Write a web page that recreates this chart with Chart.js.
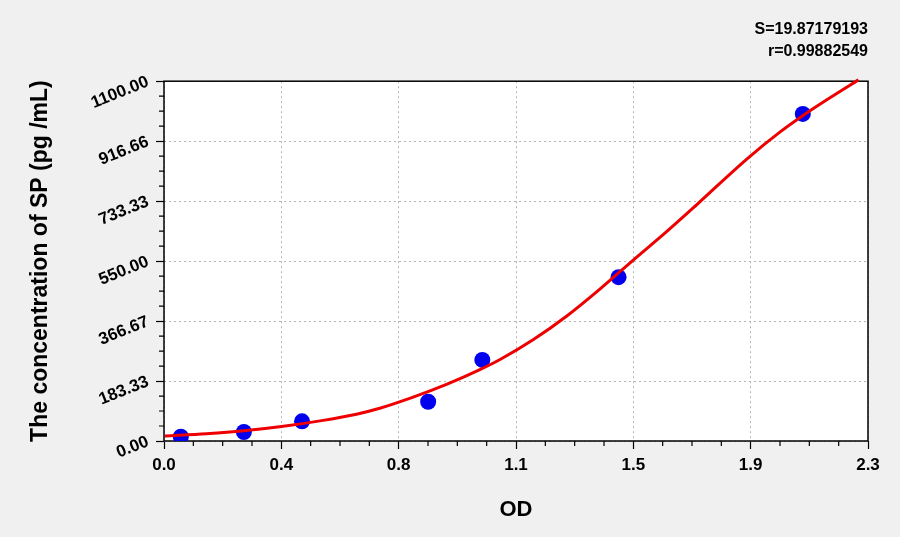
<!DOCTYPE html>
<html>
<head>
<meta charset="utf-8">
<script src="https://cdn.jsdelivr.net/npm/chart.js@4.4.1/dist/chart.umd.min.js"></script>
<style>
  html, body { margin: 0; padding: 0; background: #f0f0f0; }
  #wrap { width: 900px; height: 537px; }
</style>
</head>
<body>
<div id="wrap"><canvas id="chart" width="900" height="537"></canvas></div>
<script>
// Datos
const pointOD = [0.055, 0.261, 0.451, 0.863, 1.040, 1.485, 2.087];
const pointConc = [13, 27.5, 60, 120, 248, 501, 1000];

// Curva ajustada (puntos leídos sobre la línea roja)
const curveOD = [0.003, 0.139, 0.261, 0.384, 0.520, 0.629, 0.705, 0.814, 0.923, 1.032, 1.098, 1.207, 1.316, 1.425, 1.534, 1.643, 1.741, 1.904, 2.013, 2.089, 2.177, 2.269];
const curveConc = [15, 22, 31, 44, 63, 82, 100, 134, 173, 218, 249, 310, 382, 465, 554, 641, 723, 862, 945, 996, 1050, 1104];

const xTickLabels = ['0.0', '0.4', '0.8', '1.1', '1.5', '1.9', '2.3'];
const yTickLabels = ['0.00', '183.33', '366.67', '550.00', '733.33', '916.66', '1100.00'];
const xMax = 2.3;
const yMax = 1100;
const statsText = ['S=19.87179193', 'r=0.99882549'];

const FONT = "'Liberation Sans', Arial, sans-serif";

// Fondo gris y área blanca con borde
const framePlugin = {
    id: 'frame',
    beforeDraw(chart) {
        const { ctx, chartArea: a } = chart;
        ctx.save();
        ctx.fillStyle = '#f0f0f0';
        ctx.fillRect(0, 0, chart.width, chart.height);
        ctx.fillStyle = '#ffffff';
        ctx.fillRect(a.left, a.top, a.right - a.left, a.bottom - a.top);
        ctx.restore();
    },
    beforeDatasetsDraw(chart) {
        const { ctx, chartArea: a, scales } = chart;
        ctx.save();
        ctx.strokeStyle = '#000';
        ctx.lineWidth = 1.5;
        ctx.strokeRect(a.left, a.top, a.right - a.left, a.bottom - a.top);

        // ticks menores (3 entre cada mayor)
        ctx.lineWidth = 1.2;
        ctx.beginPath();
        const xs = scales.x, ys = scales.y;
        for (let i = 0; i < 6; i++) {
            for (let k = 1; k < 4; k++) {
                const vx = (i + k / 4) * xMax / 6;
                const px = xs.getPixelForValue(vx);
                ctx.moveTo(px, a.bottom);
                ctx.lineTo(px, a.bottom + 5);
                const vy = (i + k / 4) * yMax / 6;
                const py = ys.getPixelForValue(vy);
                ctx.moveTo(a.left, py);
                ctx.lineTo(a.left - 5, py);
            }
        }
        ctx.stroke();
        ctx.restore();
    }
};

const gridOpts = {
    color: '#b4b4b4',
    lineWidth: 1,
    drawTicks: true,
    tickLength: 8,
    tickColor: '#000',
    tickWidth: 1.2,
    tickBorderDash: []
};

new Chart(document.getElementById('chart'), {
    type: 'scatter',
    data: {
        datasets: [{
            label: 'Curva',
            type: 'line',
            data: curveOD.map((x, i) => ({ x: x, y: curveConc[i] })),
            borderColor: '#ee0000',
            borderWidth: 3,
            pointRadius: 0,
            fill: false,
            cubicInterpolationMode: 'monotone',
            clip: 6
        }, {
            label: 'Estándares',
            data: pointOD.map((x, i) => ({ x: x, y: pointConc[i] })),
            backgroundColor: '#0000ee',
            borderWidth: 0,
            pointRadius: 8,
            pointHoverRadius: 8
        }]
    },
    options: {
        responsive: false,
        animation: false,
        devicePixelRatio: 1,
        layout: { padding: { top: 0, right: 32, bottom: 0, left: 0 } },
        plugins: {
            legend: { display: false },
            tooltip: { enabled: false },
            title: {
                display: true,
                text: statsText,
                align: 'end',
                color: '#000',
                font: { family: FONT, size: 16, weight: 'bold', lineHeight: 1.35 },
                padding: { top: 19, bottom: 19 }
            }
        },
        scales: {
            x: {
                type: 'linear',
                min: 0,
                max: xMax,
                afterBuildTicks(scale) {
                    scale.ticks = xTickLabels.map((t, i) => ({ value: i * xMax / 6 }));
                },
                afterFit(scale) { scale.height = 96; },
                ticks: {
                    autoSkip: false,
                    maxRotation: 0,
                    padding: 6,
                    color: '#000',
                    font: { family: FONT, size: 17, weight: 'bold' },
                    callback: (v, i) => xTickLabels[i]
                },
                grid: gridOpts,
                border: { display: false, dash: [2, 3] },
                title: {
                    display: true,
                    text: 'OD',
                    color: '#000',
                    font: { family: FONT, size: 22, weight: 'bold', lineHeight: 1.2 },
                    padding: { top: 0, bottom: 14 }
                }
            },
            y: {
                type: 'linear',
                min: 0,
                max: yMax,
                afterBuildTicks(scale) {
                    scale.ticks = yTickLabels.map((t, i) => ({ value: i * yMax / 6 }));
                },
                afterFit(scale) { scale.width = 164; },
                ticks: {
                    autoSkip: false,
                    minRotation: 22,
                    maxRotation: 22,
                    padding: 8,
                    color: '#000',
                    font: { family: FONT, size: 17, weight: 'bold' },
                    callback: (v, i) => yTickLabels[i]
                },
                grid: gridOpts,
                border: { display: false, dash: [2, 3] },
                title: {
                    display: true,
                    text: 'The concentration of SP (pg /mL)',
                    color: '#000',
                    font: { family: FONT, size: 23, weight: 'bold', lineHeight: 1.2 },
                    padding: { top: 27, bottom: 0 }
                }
            }
        }
    },
    plugins: [framePlugin]
});
</script>
</body>
</html>
